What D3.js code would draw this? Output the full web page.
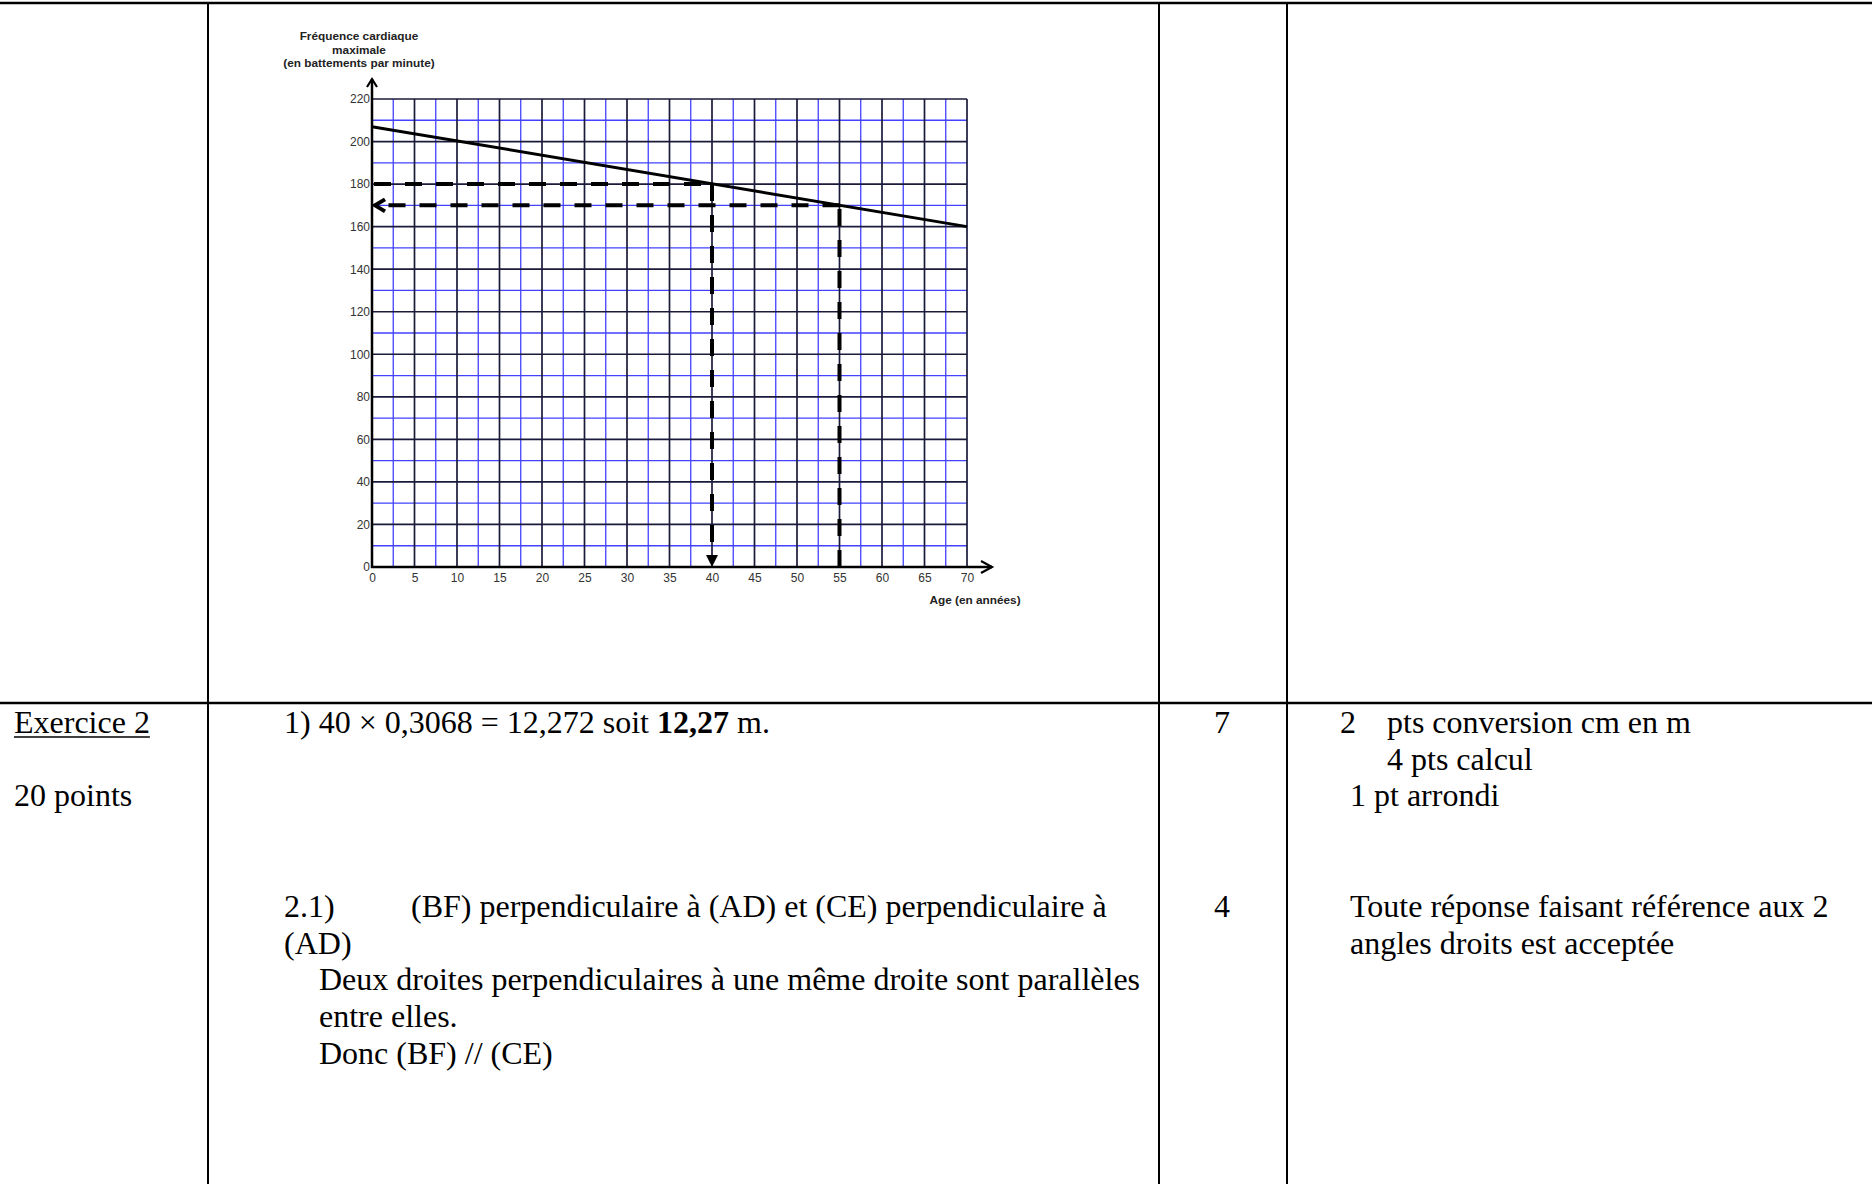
<!DOCTYPE html>
<html>
<head>
<meta charset="utf-8">
<script src="https://cdn.jsdelivr.net/npm/d3@7"></script>
<style>
  body { margin: 0; background: #fff; }
  svg { display: block; }
</style>
</head>
<body>
<div id="page"></div>
<script>
// ---- chart data ----
const ageTicks = [0, 5, 10, 15, 20, 25, 30, 35, 40, 45, 50, 55, 60, 65, 70];
const fcTicks = [0, 20, 40, 60, 80, 100, 120, 140, 160, 180, 200, 220];
const lineAges = [0, 70];
const lineFc = [207, 160];
const readAges = [40, 55];
const readFc = [180, 170];

// ---- table text ----
const row1Left = ["Exercice 2", "20 points"];
const row1Answer = ["1) 40 × 0,3068 = 12,272 soit ", "12,27", " m."];
const row1Points = "7";
const row1Notes = [["2", "pts conversion cm en m"], ["", "4 pts calcul"], ["1 pt arrondi", ""]];
const row2Answer = [
    ["2.1)", "(BF) perpendiculaire à (AD) et (CE) perpendiculaire à"],
    ["(AD)", ""],
    ["", "Deux droites perpendiculaires à une même droite sont parallèles"],
    ["", "entre elles."],
    ["", "Donc (BF) // (CE)"]
];
const row2Points = "4";
const row2Notes = ["Toute réponse faisant référence aux 2", "angles droits est acceptée"];

const W = 1872, H = 1184;

const svg = d3.select("#page").append("svg")
    .attr("width", W)
    .attr("height", H);

svg.append("rect").attr("width", W).attr("height", H).attr("fill", "#fff");

// =========================
// TABLE LINES
// =========================
const colX = [208, 1159, 1287];
const rowY = 703;
const tbl = svg.append("g").attr("stroke", "#000");

tbl.append("line").attr("x1", 0).attr("x2", W).attr("y1", 3).attr("y2", 3).attr("stroke-width", 2.5);
tbl.append("line").attr("x1", 0).attr("x2", W).attr("y1", rowY).attr("y2", rowY).attr("stroke-width", 2.5);
colX.forEach(x => {
    tbl.append("line").attr("x1", x).attr("x2", x).attr("y1", 2).attr("y2", H).attr("stroke-width", 2);
});

// =========================
// TABLE TEXT
// =========================
const serif = "'Liberation Serif', 'Times New Roman', serif";
const txt = svg.append("g")
    .style("font-family", serif)
    .style("font-size", "32px")
    .attr("fill", "#000");

const lh = 36.7;
const b1 = 733;
const b2 = 917;

const ex = txt.append("text").attr("x", 14).attr("y", b1).text(row1Left[0]);
const exLen = ex.node().getComputedTextLength();
svg.append("line").attr("x1", 14).attr("x2", 14 + exLen)
    .attr("y1", b1 + 4).attr("y2", b1 + 4)
    .attr("stroke", "#000").attr("stroke-width", 1.6);
txt.append("text").attr("x", 14).attr("y", b1 + 2 * lh).text(row1Left[1]);

const a1 = txt.append("text").attr("x", 284).attr("y", b1);
a1.append("tspan").text(row1Answer[0]);
a1.append("tspan").style("font-weight", "bold").text(row1Answer[1]);
a1.append("tspan").text(row1Answer[2]);

txt.append("text").attr("x", 1222).attr("y", b1).attr("text-anchor", "middle").text(row1Points);
txt.append("text").attr("x", 1340).attr("y", b1).text(row1Notes[0][0]);
txt.append("text").attr("x", 1387).attr("y", b1).text(row1Notes[0][1]);
txt.append("text").attr("x", 1387).attr("y", b1 + lh).text(row1Notes[1][1]);
txt.append("text").attr("x", 1350).attr("y", b1 + 2 * lh).text(row1Notes[2][0]);

row2Answer.forEach((r, i) => {
    const y = b2 + i * lh;
    if (i < 2) {
        txt.append("text").attr("x", 284).attr("y", y).text(r[0]);
        if (r[1]) txt.append("text").attr("x", 411).attr("y", y).text(r[1]);
    } else {
        txt.append("text").attr("x", 319).attr("y", y).text(r[1]);
    }
});
txt.append("text").attr("x", 1222).attr("y", b2).attr("text-anchor", "middle").text(row2Points);
row2Notes.forEach((t, i) => {
    txt.append("text").attr("x", 1350).attr("y", b2 + i * lh).text(t);
});

// =========================
// CHART
// =========================
const x = d3.scaleLinear().domain([0, 70]).range([372, 967]);
const y = d3.scaleLinear().domain([0, 220]).range([567, 99]);

const chart = svg.append("g");

// grid: blue half steps, dark main steps
const vGrid = d3.range(0, 70.01, 2.5);
const hGrid = d3.range(0, 220.01, 10);

chart.append("g").selectAll("line")
    .data(vGrid.filter(v => v % 5 !== 0))
    .join("line")
    .attr("x1", d => x(d)).attr("x2", d => x(d))
    .attr("y1", y(0)).attr("y2", y(220))
    .attr("stroke", "#4242ff").attr("stroke-width", 1.3);
chart.append("g").selectAll("line")
    .data(hGrid.filter(v => v % 20 !== 0))
    .join("line")
    .attr("x1", x(0)).attr("x2", x(70))
    .attr("y1", d => y(d)).attr("y2", d => y(d))
    .attr("stroke", "#4242ff").attr("stroke-width", 1.3);
chart.append("g").selectAll("line")
    .data(vGrid.filter(v => v % 5 === 0))
    .join("line")
    .attr("x1", d => x(d)).attr("x2", d => x(d))
    .attr("y1", y(0)).attr("y2", y(220))
    .attr("stroke", "#1a1a3a").attr("stroke-width", 1.7);
chart.append("g").selectAll("line")
    .data(hGrid.filter(v => v % 20 === 0))
    .join("line")
    .attr("x1", x(0)).attr("x2", x(70))
    .attr("y1", d => y(d)).attr("y2", d => y(d))
    .attr("stroke", "#1a1a3a").attr("stroke-width", 1.7);

// axes labels
const sans = "'Liberation Sans', Arial, sans-serif";

const yAxis = chart.append("g")
    .attr("transform", `translate(${x(0)},0)`)
    .call(d3.axisLeft(y).tickValues(fcTicks).tickSize(0).tickPadding(2));
const xAxis = chart.append("g")
    .attr("transform", `translate(0,${y(0)})`)
    .call(d3.axisBottom(x).tickValues(ageTicks).tickSize(0).tickPadding(6));
[yAxis, xAxis].forEach(a => {
    a.select(".domain").remove();
    a.selectAll("text")
        .style("font-family", sans)
        .style("font-size", "12px")
        .attr("fill", "#333");
});

// axis lines with arrows
const ax = chart.append("g").attr("stroke", "#000").attr("fill", "none")
    .attr("stroke-width", 2.5);
ax.append("line").attr("x1", x(0)).attr("x2", x(0)).attr("y1", y(0) + 1).attr("y2", 79);
ax.append("path").attr("d", `M${x(0) - 5},${87} L${x(0)},${79} L${x(0) + 5},${87}`).attr("stroke-width", 2.2);
ax.append("line").attr("x1", x(0) - 1).attr("x2", 992).attr("y1", y(0)).attr("y2", y(0));
ax.append("path").attr("d", `M${981},${y(0) - 6} L${992},${y(0)} L${981},${y(0) + 6}`).attr("stroke-width", 2.2);

// max heart rate line
const lineData = lineAges.map((a, i) => ({ age: a, fc: lineFc[i] }));
chart.append("path")
    .datum(lineData)
    .attr("d", d3.line().x(d => x(d.age)).y(d => y(d.fc)))
    .attr("fill", "none")
    .attr("stroke", "#000")
    .attr("stroke-width", 3);

// reading lines (dashed)
const dash = chart.append("g").attr("stroke", "#000").attr("stroke-width", 4)
    .attr("fill", "none").attr("stroke-dasharray", "17,14");

// age 40 -> 180 : horizontal then down to the age axis
dash.append("line")
    .attr("x1", x(0) + 2).attr("x2", x(readAges[0]))
    .attr("y1", y(readFc[0])).attr("y2", y(readFc[0]));
dash.append("line")
    .attr("x1", x(readAges[0])).attr("x2", x(readAges[0]))
    .attr("y1", y(readFc[0])).attr("y2", y(0) - 12);
chart.append("path")
    .attr("d", `M${x(readAges[0]) - 6},${y(0) - 12} L${x(readAges[0]) + 6},${y(0) - 12} L${x(readAges[0])},${y(0)} Z`)
    .attr("fill", "#000");

// age 55 -> 170 : up from age axis then left to the fc axis
dash.append("line")
    .attr("x1", x(readAges[1])).attr("x2", x(readAges[1]))
    .attr("y1", y(0)).attr("y2", y(readFc[1]));
dash.append("line")
    .attr("x1", x(readAges[1])).attr("x2", x(0) + 12)
    .attr("y1", y(readFc[1])).attr("y2", y(readFc[1]));
chart.append("path")
    .attr("d", `M${x(0) + 13},${y(readFc[1]) - 6} L${x(0) + 3},${y(readFc[1])} L${x(0) + 13},${y(readFc[1]) + 6}`)
    .attr("fill", "none").attr("stroke", "#000").attr("stroke-width", 4)
    .attr("stroke-linejoin", "miter");

// titles
const ttl = chart.append("g")
    .style("font-family", sans)
    .style("font-size", "11.8px")
    .style("font-weight", "bold")
    .attr("fill", "#222")
    .attr("text-anchor", "middle");
["Fréquence cardiaque", "maximale", "(en battements par minute)"].forEach((t, i) => {
    ttl.append("text").attr("x", 359).attr("y", 40 + i * 13.5).text(t);
});
ttl.append("text").attr("x", 975).attr("y", 604).text("Age (en années)");
</script>
</body>
</html>
